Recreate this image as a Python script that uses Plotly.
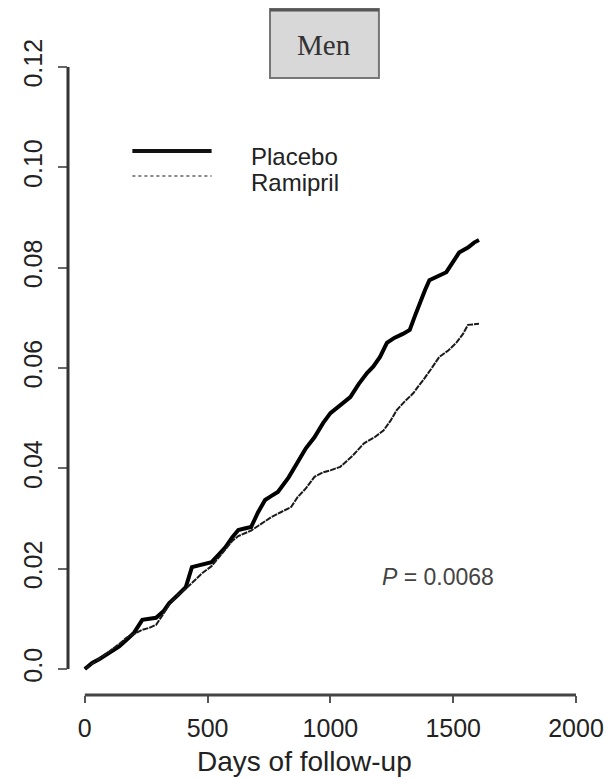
import plotly.graph_objects as go

# ---- data ----
placebo_days = [0, 30, 60, 100, 140, 169, 200, 234, 262, 290, 320, 343, 380, 411, 436, 470, 516, 545,
                573, 600, 625, 650, 677, 705, 734, 760, 786, 830, 867, 900, 935, 970, 1000, 1040,
                1081, 1115, 1149, 1175, 1202, 1230, 1260, 1295, 1323, 1345, 1363, 1385, 1403, 1440,
                1472, 1500, 1524, 1560, 1585, 1605]
placebo_vals = [0.0, 0.0012, 0.0020, 0.0032, 0.0045, 0.0058, 0.0072, 0.0098, 0.0100, 0.0102, 0.0115,
                0.0131, 0.0148, 0.0163, 0.0203, 0.0207, 0.0213, 0.0228, 0.0243, 0.0262, 0.0277,
                0.0280, 0.0283, 0.0312, 0.0337, 0.0345, 0.0353, 0.0382, 0.0411, 0.0440, 0.0462,
                0.0490, 0.0510, 0.0525, 0.0542, 0.0568, 0.0590, 0.0603, 0.0622, 0.0650, 0.0660,
                0.0668, 0.0676, 0.0705, 0.0730, 0.0755, 0.0775, 0.0783, 0.0791, 0.0812, 0.0830,
                0.0840, 0.0850, 0.0855]

ramipril_days = [0, 30, 60, 100, 140, 169, 200, 234, 262, 290, 320, 343, 380, 411, 450, 480, 516, 545,
                 573, 600, 625, 650, 677, 705, 734, 760, 800, 840, 867, 900, 935, 970, 1000, 1040,
                 1090, 1137, 1180, 1217, 1245, 1270, 1300, 1338, 1360, 1378, 1410, 1443, 1480, 1512,
                 1540, 1560, 1605]
ramipril_vals = [0.0, 0.0010, 0.0020, 0.0035, 0.0050, 0.0062, 0.0070, 0.0078, 0.0082, 0.0088, 0.0110,
                 0.0128, 0.0148, 0.0160, 0.0178, 0.0192, 0.0205, 0.0222, 0.0238, 0.0255, 0.0265,
                 0.0270, 0.0276, 0.0285, 0.0295, 0.0303, 0.0313, 0.0323, 0.0343, 0.0360, 0.0383,
                 0.0392, 0.0396, 0.0403, 0.0425, 0.0450, 0.0462, 0.0476, 0.0495, 0.0516, 0.0532,
                 0.0550, 0.0565, 0.0576, 0.0598, 0.0622, 0.0635, 0.0650, 0.0668, 0.0686, 0.0688]

x_ticks = [0, 500, 1000, 1500, 2000]
x_tick_labels = ["0", "500", "1000", "1500", "2000"]
y_ticks = [0.0, 0.02, 0.04, 0.06, 0.08, 0.10, 0.12]
y_tick_labels = ["0.0", "0.02", "0.04", "0.06", "0.08", "0.10", "0.12"]

series_names = ["Placebo", "Ramipril"]
panel_title = "Men"
x_title = "Days of follow-up"
p_text = "<i>P</i> = 0.0068"

FONT = "Liberation Sans, Arial, sans-serif"

# ---- layout geometry (pixels of the 616x778 page) ----
W, H = 616, 778
L, R, T, B = 68, 581, 67, 695  # plot area edges


def px(x):
    return (x - L) / (R - L)


def py(y):
    return (B - y) / (B - T)


fig = go.Figure()
fig.add_trace(go.Scatter(x=placebo_days, y=placebo_vals, mode="lines", name=series_names[0],
                         line=dict(color="#000000", width=4), showlegend=False))
fig.add_trace(go.Scatter(x=ramipril_days, y=ramipril_vals, mode="lines", name=series_names[1],
                         line=dict(color="#1a1a1a", width=2, dash="6px,1px"), showlegend=False))

shapes = [
    # R-style axis lines
    dict(type="line", xref="paper", yref="y", x0=0, x1=0, y0=y_ticks[0], y1=y_ticks[-1],
         line=dict(color="#333333", width=3)),
    dict(type="line", xref="x", yref="paper", x0=x_ticks[0], x1=x_ticks[-1], y0=0, y1=0,
         line=dict(color="#444444", width=3)),
    # panel title box
    dict(type="rect", xref="paper", yref="paper", x0=px(272), x1=px(382), y0=py(78), y1=py(9),
         fillcolor="#d8d8d8", line=dict(color="#777777", width=2)),
    dict(type="line", xref="paper", yref="paper", x0=px(272), x1=px(382), y0=py(10), y1=py(10),
         line=dict(color="#555555", width=3)),
    # legend keys
    dict(type="line", xref="paper", yref="paper", x0=px(133), x1=px(213), y0=py(151), y1=py(151),
         line=dict(color="#111111", width=4)),
    dict(type="line", xref="paper", yref="paper", x0=px(133), x1=px(213), y0=py(176), y1=py(176),
         line=dict(color="#888888", width=2, dash="dot")),
]

annotations = [
    dict(text=panel_title, xref="paper", yref="paper", x=px(327), y=py(45), showarrow=False,
         xanchor="center", yanchor="middle",
         font=dict(family="Liberation Serif, Times New Roman, serif", size=29, color="#333333")),
    dict(text=series_names[0], xref="paper", yref="paper", x=px(251), y=py(156), showarrow=False,
         xanchor="left", yanchor="middle", font=dict(family=FONT, size=24, color="#222222")),
    dict(text=series_names[1], xref="paper", yref="paper", x=px(251), y=py(183), showarrow=False,
         xanchor="left", yanchor="middle", font=dict(family=FONT, size=24, color="#222222")),
    dict(text=p_text, xref="paper", yref="paper", x=px(383), y=py(577), showarrow=False,
         xanchor="left", yanchor="middle", font=dict(family=FONT, size=23, color="#444444")),
    dict(text=x_title, xref="paper", yref="paper", x=px(307), y=py(761), showarrow=False,
         xanchor="center", yanchor="middle", font=dict(family=FONT, size=28, color="#222222")),
]

fig.update_layout(
    width=W, height=H,
    margin=dict(l=L, r=W - R, t=T, b=H - B, pad=0),
    paper_bgcolor="white", plot_bgcolor="white",
    shapes=shapes, annotations=annotations,
    showlegend=False,
    font=dict(family=FONT, color="#222222"),
)
fig.update_xaxes(range=[-68.5, 2000], tickvals=x_ticks, ticktext=x_tick_labels,
                 showgrid=False, zeroline=False, showline=False,
                 ticks="outside", ticklen=7, tickwidth=2, tickcolor="#555555",
                 tickfont=dict(family=FONT, size=25, color="#222222"), ticklabelstandoff=4)
fig.update_yaxes(range=[-0.00518, 0.12], tickvals=y_ticks, ticktext=y_tick_labels,
                 showgrid=False, zeroline=False, showline=False,
                 ticks="outside", ticklen=9, tickwidth=2, tickcolor="#666666", tickangle=-90,
                 tickfont=dict(family=FONT, size=25, color="#222222"), ticklabelstandoff=6)

fig.write_html("out.html")
